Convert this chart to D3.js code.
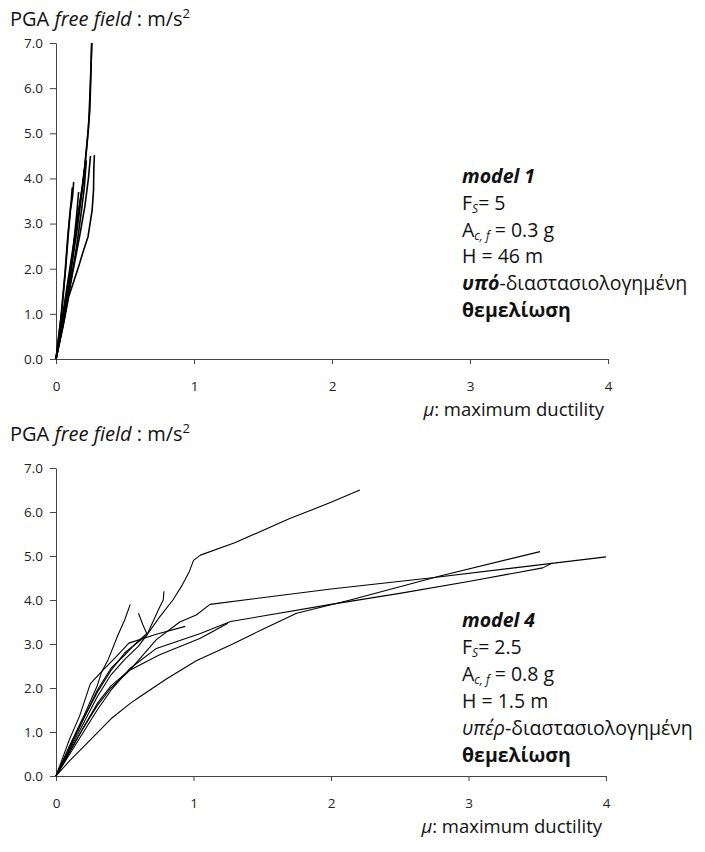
<!DOCTYPE html>
<html>
<head>
<meta charset="utf-8">
<script src="https://cdn.jsdelivr.net/npm/d3@7"></script>
<style>
  body { margin: 0; background: #fff; }
  svg text { font-family: "Open Sans", "Noto Sans", sans-serif; fill: #111; }
  .axis path, .axis line { stroke: #444; }
  .axis text { font-size: 13.5px; font-family: "Open Sans", sans-serif; fill: #222; }
</style>
</head>
<body>
<div id="container"></div>
<script>
// tick values (same for both panels)
var pgaTicks = [0, 1, 2, 3, 4, 5, 6, 7];
var muTicks = [0, 1, 2, 3, 4];

// model 1 runs: [mu, PGA]
var model1Runs = [
    [[0,0],[0.05,0.9],[0.1,1.8],[0.15,2.8],[0.18,3.5],[0.2,4.0],[0.22,4.6],[0.235,5.1],[0.245,5.8],[0.25,6.2],[0.26,7.0]],
    [[0,0],[0.04,0.8],[0.09,1.8],[0.14,2.8],[0.17,3.4],[0.2,4.0],[0.225,4.8],[0.245,5.5],[0.252,6.2],[0.258,7.0]],
    [[0,0],[0.04,1.0],[0.07,2.0],[0.09,2.8],[0.105,3.3],[0.12,3.6],[0.128,3.92]],
    [[0,0],[0.035,0.9],[0.065,1.9],[0.085,2.7],[0.1,3.2],[0.11,3.5],[0.118,3.8]],
    [[0,0],[0.05,0.8],[0.1,1.7],[0.13,2.6],[0.15,3.2],[0.164,3.7]],
    [[0,0],[0.05,0.7],[0.092,1.38],[0.164,2.05],[0.2,2.41],[0.232,2.71],[0.262,3.3],[0.272,3.74],[0.274,4.2],[0.278,4.52]],
    [[0,0],[0.06,0.9],[0.12,1.9],[0.17,2.7],[0.21,3.4],[0.235,4.0],[0.25,4.5]],
    [[0,0],[0.05,0.75],[0.1,1.6],[0.15,2.5],[0.185,3.3],[0.205,3.8],[0.22,4.4]],
    [[0,0],[0.04,0.7],[0.08,1.5],[0.12,2.3],[0.15,3.0],[0.17,3.4],[0.19,3.8],[0.205,4.2]]
];

// model 4 runs: [mu, PGA]
var model4Runs = [
    [[0,0],[0.1,0.65],[0.2,1.3],[0.3,1.9],[0.4,2.4],[0.5,2.8],[0.6,3.05],[0.66,3.2],[0.75,3.6],[0.85,4.0],[0.92,4.35],[0.97,4.65],[1.0,4.9],[1.05,5.02],[1.3,5.3],[1.7,5.85],[2.0,6.22],[2.21,6.5]],
    [[0,0],[0.1,0.7],[0.2,1.35],[0.3,2.05],[0.33,2.35],[0.38,2.65],[0.45,3.2],[0.5,3.55],[0.54,3.9]],
    [[0,0],[0.1,0.6],[0.2,1.2],[0.3,1.8],[0.4,2.3],[0.5,2.65],[0.6,2.95],[0.66,3.2],[0.7,3.47],[0.756,3.85],[0.78,4.0],[0.785,4.2]],
    [[0,0],[0.1,0.65],[0.2,1.3],[0.3,1.95],[0.4,2.45],[0.5,2.75],[0.56,2.95],[0.66,3.24],[0.63,3.45],[0.6,3.7]],
    [[0,0],[0.1,0.85],[0.17,1.35],[0.25,2.1],[0.34,2.4],[0.44,2.72],[0.53,3.02],[0.73,3.22],[0.94,3.4]],
    [[0,0],[0.1,0.55],[0.2,1.1],[0.3,1.65],[0.4,2.05],[0.55,2.45],[0.73,3.1],[0.9,3.5],[1.02,3.66],[1.12,3.9],[2.0,4.25],[2.72,4.5],[4.0,4.98]],
    [[0,0],[0.1,0.35],[0.25,0.82],[0.4,1.3],[0.54,1.65],[0.61,1.8],[0.8,2.2],[1.02,2.62],[1.27,2.98],[1.5,3.33],[1.75,3.7],[2.14,4.0],[2.8,4.55],[3.52,5.1]],
    [[0,0],[0.1,0.5],[0.2,1.0],[0.3,1.5],[0.4,1.95],[0.54,2.45],[0.73,2.9],[1.05,3.24],[1.27,3.51],[2.0,3.9],[2.5,4.15],[3.0,4.42],[3.54,4.73],[3.61,4.84]],
    [[0,0],[0.1,0.55],[0.2,1.1],[0.3,1.6],[0.4,2.0],[0.54,2.41],[0.75,2.75],[1.05,3.13],[1.25,3.47]]
];

(function(){
    window.onload = drawCharts();
    function drawCharts(){
        var width = 705,
            height = 852;
        var svg = d3.select("#container")
            .append("svg")
            .attr("width", width)
            .attr("height", height);

        //top panel: model 1
        drawPanel(svg, {
            runs: model1Runs, top: 43, bottom: 359, right: 608,
            titleY: 26, lineWidth: 1.6,
            noteY: 183, noteStep: 26.8,
            model: "model 1", fs: "5", acf: "0.3 g", h: "46 m",
            prefix: "υπό", prefixBold: true
        });
        //bottom panel: model 4
        drawPanel(svg, {
            runs: model4Runs, top: 468, bottom: 776, right: 606,
            titleY: 441, lineWidth: 1.1,
            noteY: 627, noteStep: 27,
            model: "model 4", fs: "2.5", acf: "0.8 g", h: "1.5 m",
            prefix: "υπέρ", prefixBold: false
        });
    };

    function drawPanel(svg, p){
        var x = d3.scaleLinear().domain([0, 4]).range([56, p.right]);
        var y = d3.scaleLinear().domain([0, 7]).range([p.bottom, p.top]);

        //axis title
        var t = svg.append("text").attr("x", 10).attr("y", p.titleY).style("font-size", "20px");
        t.append("tspan").text("PGA ");
        t.append("tspan").style("font-style", "italic").text("free field");
        t.append("tspan").text(" : m/s");
        t.append("tspan").attr("dy", -8).style("font-size", "13px").text("2");

        svg.append("g")
            .attr("class", "axis")
            .attr("transform", "translate(56,0)")
            .call(d3.axisLeft(y).tickValues(pgaTicks).tickFormat(d3.format(".1f"))
                .tickSize(6).tickSizeOuter(0).tickPadding(7));
        svg.append("g")
            .attr("class", "axis")
            .attr("transform", "translate(0," + p.bottom + ")")
            .call(d3.axisBottom(x).tickValues(muTicks).tickFormat(d3.format("d"))
                .tickSize(5).tickSizeOuter(0).tickPadding(17));

        var line = d3.line()
            .x(function(d){ return x(d[0]); })
            .y(function(d){ return y(d[1]); });
        svg.append("g")
            .selectAll("path")
            .data(p.runs)
            .enter()
            .append("path")
            .attr("d", line)
            .attr("fill", "none")
            .attr("stroke", "#000")
            .attr("stroke-width", p.lineWidth)
            .attr("stroke-linejoin", "round");

        //mu label
        var mu = svg.append("text")
            .attr("x", p.right - 4).attr("y", p.bottom + 57)
            .attr("text-anchor", "end")
            .style("font-size", "18.5px");
        mu.append("tspan").style("font-style", "italic").text("μ");
        mu.append("tspan").text(": maximum ductility");

        //note block
        var nx = 462, ny = p.noteY, st = p.noteStep, fsz = "19.5px";
        svg.append("text").attr("x", nx).attr("y", ny).style("font-size", fsz)
            .style("font-weight", "bold").style("font-style", "italic").text(p.model);
        var f = svg.append("text").attr("x", nx).attr("y", ny + st).style("font-size", fsz);
        f.append("tspan").text("F");
        f.append("tspan").attr("dy", 3).style("font-size", "12px").style("font-style", "italic").text("S");
        f.append("tspan").attr("dy", -3).text("= " + p.fs);
        var a = svg.append("text").attr("x", nx).attr("y", ny + 2 * st).style("font-size", fsz);
        a.append("tspan").text("A");
        a.append("tspan").attr("dy", 3).style("font-size", "12px").style("font-style", "italic").text("c, f");
        a.append("tspan").attr("dy", -3).text(" = " + p.acf);
        svg.append("text").attr("x", nx).attr("y", ny + 3 * st).style("font-size", fsz).text("H = " + p.h);
        var u = svg.append("text").attr("x", nx).attr("y", ny + 4 * st).style("font-size", fsz);
        u.append("tspan").style("font-style", "italic")
            .style("font-weight", p.prefixBold ? "bold" : "normal").text(p.prefix);
        u.append("tspan").text("-διαστασιολογημένη");
        svg.append("text").attr("x", nx).attr("y", ny + 5 * st).style("font-size", fsz)
            .style("font-weight", "bold").text("θεμελίωση");
    };
})();
</script>
</body>
</html>
